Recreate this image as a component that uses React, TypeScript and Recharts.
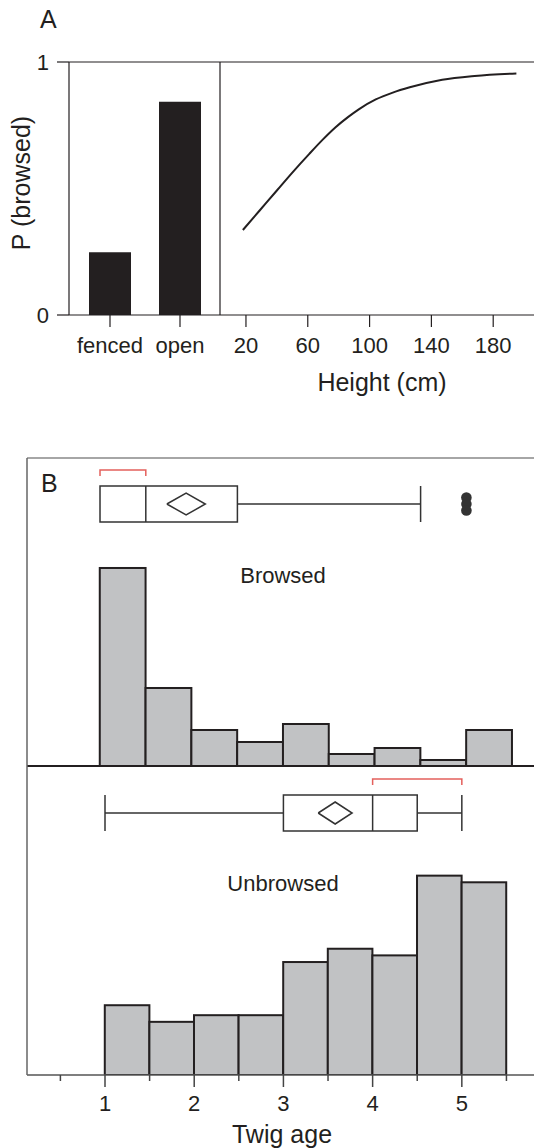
import React from 'react';
import {
  BarChart,
  Bar,
  LineChart,
  Line,
  ComposedChart,
  Scatter,
  XAxis,
  YAxis,
  ReferenceLine,
  ReferenceArea,
} from 'recharts';

const W = 534;
const H = 1148;
const INK = '#231f20';
const RED = '#e4605c';
const FONT = "'Liberation Sans', Arial, Helvetica, sans-serif";

// panel A: browsing probability
const groups = ['fenced', 'open'];
const groupP = [0.248, 0.843];
const heightCm = [18, 29, 40, 50, 61, 70, 78, 86, 93, 104, 115, 126, 147, 168, 195];
const heightP = [0.336, 0.414, 0.492, 0.563, 0.637, 0.695, 0.742, 0.782, 0.813, 0.852, 0.879, 0.9, 0.93, 0.945, 0.955];
const heightTicks = [20, 60, 100, 140, 180];

// panel B: twig age histograms
const binStart = [1, 1.5, 2, 2.5, 3, 3.5, 4, 4.5, 5];
const BIN = 0.5;
const browsedCounts = [33, 13, 6, 4, 7, 2, 3, 1, 6];
const unbrowsedCounts = [21, 16, 18, 18, 34, 38, 36, 60, 58];
const browsedBox = { min: 1, q1: 1, median: 1.5, q3: 2.5, max: 4.5, mean: 1.94, ci: 0.21, shortLo: 1, shortHi: 1.5 };
const unbrowsedBox = { min: 1, q1: 3, median: 4, q3: 4.5, max: 5, mean: 3.58, ci: 0.19, shortLo: 4, shortHi: 5 };
const browsedOutliers = [5, 5, 5];
const ageTicks = [0.5, 1, 1.5, 2, 2.5, 3, 3.5, 4, 4.5, 5, 5.5];

// box plot placement, px above the histogram baseline
const BOX_LO = 244;
const BOX_HI = 280;
const BOX_MID = 262;
const DIA_H = 11;
const BRK_LO = 290;
const BRK_HI = 296;
const JITTER = [6.5, 0, -6.5];

const AgeTick = (props: any) => {
  const { x, y, payload } = props;
  const major = Number.isInteger(payload.value);
  return (
    <g>
      <line x1={x} x2={x} y1={y} y2={y + (major ? 12 : 6)} stroke="#444" strokeWidth={1.5} />
      {major && (
        <text x={x} y={y + 36} textAnchor="middle" fontSize={22} fill={INK}>
          {payload.value}
        </text>
      )}
    </g>
  );
};

interface BoxStats {
  min: number;
  q1: number;
  median: number;
  q3: number;
  max: number;
  mean: number;
  ci: number;
  shortLo: number;
  shortHi: number;
}

interface TwigPanelProps {
  top: number;
  bottom: number;
  xDomain: [number, number];
  yMax: number;
  counts: number[];
  box: BoxStats;
  outliers?: number[];
  axis?: boolean;
}

const TwigPanel: React.FC<TwigPanelProps> = ({ top, bottom, xDomain, yMax, counts, box, outliers = [], axis = false }) => {
  const plotH = bottom - top;
  const rows = binStart.map((s, i) => ({ x: s + BIN / 2, n: counts[i] }));
  // px width of one bin on this panel's scale
  const binPx = ((W - 27) / (xDomain[1] - xDomain[0])) * BIN;
  const diamond = [
    { x: box.mean - box.ci, y: BOX_MID },
    { x: box.mean, y: BOX_MID + DIA_H },
    { x: box.mean + box.ci, y: BOX_MID },
    { x: box.mean, y: BOX_MID - DIA_H },
    { x: box.mean - box.ci, y: BOX_MID },
  ];
  const bracket = [
    { x: box.shortLo, y: BRK_LO },
    { x: box.shortLo, y: BRK_HI },
    { x: box.shortHi, y: BRK_HI },
    { x: box.shortHi, y: BRK_LO },
  ];
  const dots = outliers.map((v, i) => ({ x: v, y: BOX_MID + JITTER[i % JITTER.length] }));
  const boxLine = { stroke: '#333', strokeWidth: 1.5, yAxisId: 'p' };

  const binShape = (p: any) => {
    const cx = p.x + p.width / 2;
    return (
      <rect
        x={cx - binPx / 2}
        y={p.y}
        width={binPx}
        height={p.height}
        fill="#c1c2c4"
        stroke={INK}
        strokeWidth={2}
      />
    );
  };

  return (
    <div style={{ position: 'absolute', left: 0, top: 0 }}>
      <ComposedChart
        width={W}
        height={H}
        data={rows}
        margin={{ top, right: 0, left: 26, bottom: H - bottom - (axis ? 40 : 0) }}
      >
        <XAxis
          type="number"
          dataKey="x"
          domain={xDomain}
          allowDataOverflow
          ticks={ageTicks}
          interval={0}
          hide={!axis}
          height={40}
          tickSize={0}
          tickMargin={0}
          tickLine={false}
          axisLine={{ stroke: '#555', strokeWidth: 1.5 }}
          tick={AgeTick}
        />
        <YAxis
          yAxisId="c"
          width={1}
          domain={[0, yMax]}
          allowDataOverflow
          tick={false}
          tickLine={false}
          axisLine={{ stroke: '#666', strokeWidth: 1.5 }}
        />
        <YAxis yAxisId="p" dataKey="y" hide domain={[0, plotH]} allowDataOverflow />
        {!axis && <ReferenceLine yAxisId="p" y={plotH} stroke="#888" strokeWidth={1.5} />}
        {!axis && <ReferenceLine yAxisId="p" y={0} stroke={INK} strokeWidth={2} />}
        <Bar yAxisId="c" dataKey="n" shape={binShape} isAnimationActive={false} />
        <ReferenceArea
          yAxisId="p"
          x1={box.q1}
          x2={box.q3}
          y1={BOX_LO}
          y2={BOX_HI}
          fill="none"
          fillOpacity={1}
          stroke="#333"
          strokeWidth={1.5}
        />
        <ReferenceLine {...boxLine} segment={[{ x: box.median, y: BOX_LO }, { x: box.median, y: BOX_HI }]} />
        {box.min < box.q1 && (
          <ReferenceLine {...boxLine} segment={[{ x: box.min, y: BOX_MID }, { x: box.q1, y: BOX_MID }]} />
        )}
        {box.min < box.q1 && (
          <ReferenceLine {...boxLine} segment={[{ x: box.min, y: BOX_LO }, { x: box.min, y: BOX_HI }]} />
        )}
        <ReferenceLine {...boxLine} segment={[{ x: box.q3, y: BOX_MID }, { x: box.max, y: BOX_MID }]} />
        <ReferenceLine {...boxLine} segment={[{ x: box.max, y: BOX_LO }, { x: box.max, y: BOX_HI }]} />
        <Scatter
          yAxisId="p"
          data={diamond}
          dataKey="y"
          line={{ stroke: '#333', strokeWidth: 1.5 }}
          shape={() => <g />}
          isAnimationActive={false}
        />
        <Scatter
          yAxisId="p"
          data={bracket}
          dataKey="y"
          line={{ stroke: RED, strokeWidth: 1.5 }}
          shape={() => <g />}
          isAnimationActive={false}
        />
        {dots.length > 0 && (
          <Scatter
            yAxisId="p"
            data={dots}
            dataKey="y"
            shape={(p: any) => <circle cx={p.cx} cy={p.cy} r={5.3} fill="#333" />}
            isAnimationActive={false}
          />
        )}
      </ComposedChart>
    </div>
  );
};

export default function App() {
  const barRows = groups.map((g, i) => ({ g, p: groupP[i] }));
  const curveRows = heightCm.map((h, i) => ({ h, p: heightP[i] }));
  const axisStyle = { stroke: INK, strokeWidth: 1.2 };
  const tickStyle = { fill: INK, fontSize: 22 };

  return (
    <div
      style={{
        position: 'absolute',
        left: 0,
        top: 0,
        width: W,
        height: H,
        overflow: 'hidden',
        background: '#fff',
        fontFamily: FONT,
        color: INK,
      }}
    >
      <div style={{ position: 'absolute', left: 0, top: 0 }}>
        <BarChart
          width={W}
          height={H}
          data={barRows}
          margin={{ top: 62, right: W - 220, left: 29, bottom: H - 315 - 40 }}
        >
          <XAxis
            dataKey="g"
            height={40}
            tickSize={12}
            tickMargin={10}
            interval={0}
            padding={{ left: 6, right: 5 }}
            axisLine={axisStyle}
            tickLine={axisStyle}
            tick={tickStyle}
          />
          <YAxis
            width={40}
            domain={[0, 1]}
            ticks={[0, 1]}
            tickSize={12}
            tickMargin={8}
            axisLine={axisStyle}
            tickLine={axisStyle}
            tick={tickStyle}
          />
          <ReferenceLine y={1} stroke={INK} strokeWidth={1.2} />
          <Bar dataKey="p" fill={INK} barSize={42} isAnimationActive={false} />
        </BarChart>
      </div>

      <div style={{ position: 'absolute', left: 0, top: 0 }}>
        <LineChart
          width={W}
          height={H}
          data={curveRows}
          margin={{ top: 62, right: 0, left: 219, bottom: H - 315 - 40 }}
        >
          <XAxis
            type="number"
            dataKey="h"
            domain={[3.2, 206.4]}
            allowDataOverflow
            ticks={heightTicks}
            interval={0}
            height={40}
            tickSize={12}
            tickMargin={10}
            axisLine={axisStyle}
            tickLine={axisStyle}
            tick={tickStyle}
          />
          <YAxis width={1} domain={[0, 1]} tick={false} tickLine={false} axisLine={axisStyle} />
          <ReferenceLine y={1} stroke={INK} strokeWidth={1.2} />
          <Line
            dataKey="p"
            type="monotone"
            stroke={INK}
            strokeWidth={2}
            dot={false}
            isAnimationActive={false}
          />
        </LineChart>
      </div>

      <TwigPanel
        top={458}
        bottom={766}
        xDomain={[0.203, 5.738]}
        yMax={51.33}
        counts={browsedCounts}
        box={browsedBox}
        outliers={browsedOutliers}
      />
      <TwigPanel
        top={766}
        bottom={1075}
        xDomain={[0.1256, 5.809]}
        yMax={93}
        counts={unbrowsedCounts}
        box={unbrowsedBox}
        axis
      />

      <svg
        width={W}
        height={H}
        style={{ position: 'absolute', left: 0, top: 0, pointerEvents: 'none' }}
        fontFamily={FONT}
        fill={INK}
      >
        <text x={40} y={28} fontSize={25}>A</text>
        <text x={30} y={183} fontSize={25} textAnchor="middle" transform="rotate(-90 30 183)">
          P (browsed)
        </text>
        <text x={382} y={391} fontSize={25} textAnchor="middle">Height (cm)</text>
        <text x={41} y={492} fontSize={25}>B</text>
        <text x={283} y={583} fontSize={22} textAnchor="middle">Browsed</text>
        <text x={283} y={891} fontSize={22} textAnchor="middle">Unbrowsed</text>
        <text x={282} y={1143} fontSize={25} textAnchor="middle">Twig age</text>
      </svg>
    </div>
  );
}
